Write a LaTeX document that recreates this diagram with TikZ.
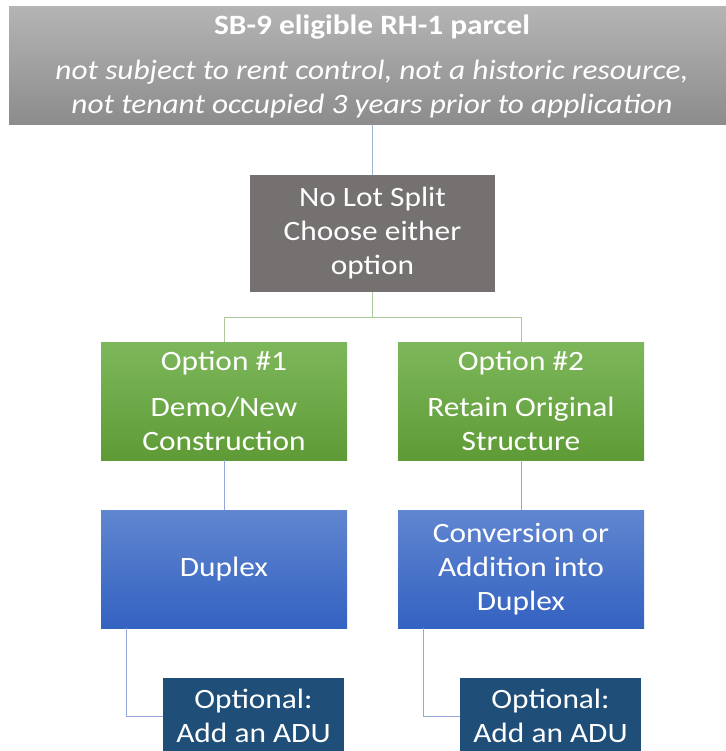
\documentclass[tikz,border=0pt]{standalone}
\usepackage{fontspec}
\setmainfont{Carlito}[FakeStretch=1.12]
\usetikzlibrary{calc}
\definecolor{gtop}{HTML}{B4B4B4}
\definecolor{gbot}{HTML}{8C8C8C}
\definecolor{nlsfill}{HTML}{767171}
\definecolor{grtop}{HTML}{7DB75B}
\definecolor{grbot}{HTML}{5E9B36}
\definecolor{bltop}{HTML}{6086D0}
\definecolor{blbot}{HTML}{3462C1}
\definecolor{adufill}{HTML}{1F4E79}
\definecolor{lnblue}{HTML}{9DB3CC}
\definecolor{lngreen}{HTML}{AAC89B}
\definecolor{lnblue2}{HTML}{93A8D8}
\begin{document}
\begin{tikzpicture}[x=1pt,y=-1pt,
  box/.style={rectangle, inner sep=0pt, outer sep=0pt, anchor=north west,
    text=white, align=center, font=\fontsize{28}{34}\selectfont},
  graybox/.style={box, top color=gtop, bottom color=gbot},
  nlsbox/.style={box, fill=nlsfill},
  greenbox/.style={box, top color=grtop, bottom color=grbot, minimum width=246pt, minimum height=118pt},
  bluebox/.style={box, top color=bltop, bottom color=blbot, minimum width=246pt, minimum height=118pt},
  adubox/.style={box, fill=adufill, minimum width=181pt, minimum height=76pt},
  conn/.style={line width=0.9pt}
]
\useasboundingbox (0,0) rectangle (725,751);
\fill[white] (0,0) rectangle (725,751);

\node[graybox, minimum width=726pt, minimum height=118pt] (top) at (9,7)
  {\textbf{SB-9 eligible RH-1 parcel}\\[11pt]
   \textit{not subject to rent control, not a historic resource,}\\
   \textit{not tenant occupied 3 years prior to application}};

\node[nlsbox, minimum width=245pt, minimum height=117pt] (nls) at (250,175)
  {No Lot Split\\Choose either\\option};

\node[greenbox] (opt1) at (101,342) {Option \#1\\[12pt]Demo/New\\Construction};
\node[greenbox] (opt2) at (398,342) {Option \#2\\[12pt]Retain Original\\Structure};

\node[bluebox] (dup1) at (101,510) {Duplex};
\node[bluebox] (dup2) at (398,510) {Conversion or\\Addition into\\Duplex};

\node[adubox] (adu1) at (163,678) {Optional:\\Add an ADU};
\node[adubox] (adu2) at (460,678) {Optional:\\Add an ADU};

\draw[conn, lnblue] (nls.north |- top.south) -- (nls.north);
\draw[conn, lngreen] (nls.south) -- ++(0,25.5) -| (opt1.north);
\draw[conn, lngreen] (nls.south) -- ++(0,25.5) -| (opt2.north);
\draw[conn, lnblue2] (opt1.south) -- (dup1.north);
\draw[conn, lnblue2] (opt2.south) -- (dup2.north);

\coordinate (c1) at ($(dup1.south west)+(25,0)$);
\coordinate (c2) at ($(dup2.south west)+(25,0)$);
\draw[conn, lnblue2] (c1) |- (adu1.west);
\draw[conn, lnblue2] (c2) |- (adu2.west);
\end{tikzpicture}
\end{document}
